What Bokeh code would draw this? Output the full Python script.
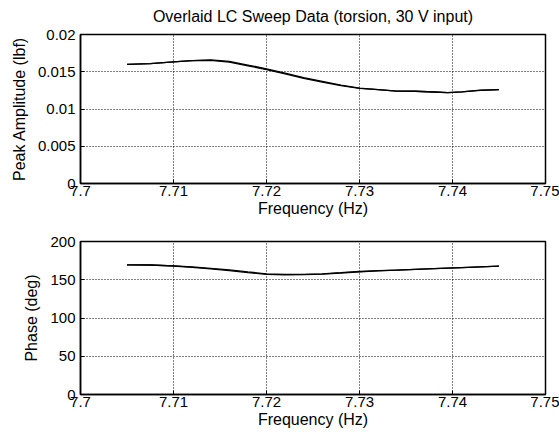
from bokeh.plotting import figure
from bokeh.layouts import column
from bokeh.models import FixedTicker, Title
from bokeh.embed import file_html
from bokeh.resources import INLINE

# ---- data ----
freq = [7.705, 7.7075, 7.71, 7.712, 7.714, 7.716, 7.718, 7.72, 7.722, 7.724,
        7.726, 7.728, 7.73, 7.732, 7.734, 7.736, 7.738, 7.7395, 7.741, 7.743, 7.745]

amp_sweep1 = [0.0160, 0.0161, 0.01633, 0.0165, 0.0166, 0.0164, 0.0159, 0.0154, 0.0148, 0.0142,
              0.0137, 0.0132, 0.0128, 0.0126, 0.0124, 0.01238, 0.01228, 0.0122, 0.0123, 0.01252, 0.0126]
amp_sweep2 = [0.0160, 0.0161, 0.01633, 0.01648, 0.01652, 0.0163, 0.0158, 0.0153, 0.0147, 0.01412,
              0.0136, 0.01314, 0.01277, 0.0126, 0.0124, 0.01238, 0.01228, 0.0122, 0.0123, 0.0125, 0.0126]

phase_sweep1 = [169.5, 169.3, 168.2, 166.8, 165.0, 162.8, 160.2, 157.8, 157.0, 157.0,
                157.8, 159.2, 160.8, 161.8, 162.7, 163.6, 164.5, 165.2, 165.9, 166.8, 167.7]
phase_sweep2 = [169.5, 169.3, 168.0, 166.2, 164.2, 162.0, 159.4, 157.1, 156.5, 156.6,
                157.4, 158.8, 160.4, 161.5, 162.5, 163.6, 164.5, 165.2, 165.9, 166.8, 167.7]

x_ticks = [7.7, 7.71, 7.72, 7.73, 7.74, 7.75]
x_tick_labels = ["7.7", "7.71", "7.72", "7.73", "7.74", "7.75"]
amp_ticks = [0, 0.005, 0.01, 0.015, 0.02]
amp_tick_labels = ["0", "0.005", "0.01", "0.015", "0.02"]
phase_ticks = [0, 50, 100, 150, 200]
phase_tick_labels = ["0", "50", "100", "150", "200"]

FONT = "Liberation Sans"


def make_fig(ylab, yticks, ylabels, yrange, top, bottom, height):
    p = figure(width=559, height=height, output_backend="svg", toolbar_location=None,
               x_range=(7.7, 7.75), y_range=yrange,
               min_border_left=80, min_border_right=14,
               min_border_top=top, min_border_bottom=bottom)
    p.xaxis.ticker = FixedTicker(ticks=x_ticks)
    p.xaxis.major_label_overrides = dict(zip(x_ticks, x_tick_labels))
    p.yaxis.ticker = FixedTicker(ticks=yticks)
    p.yaxis.major_label_overrides = dict(zip(yticks, ylabels))
    p.xaxis.axis_label = "Frequency (Hz)"
    p.yaxis.axis_label = ylab
    for ax in (p.xaxis, p.yaxis):
        ax.axis_label_text_font = FONT
        ax.axis_label_text_font_style = "normal"
        ax.axis_label_text_font_size = "16px"
        ax.major_label_text_font = FONT
        ax.major_label_text_font_size = "15px"
        ax.major_label_text_color = "black"
        ax.axis_label_text_color = "black"
        ax.axis_line_color = "black"
        ax.axis_line_width = 1.5
        ax.major_tick_in = 4
        ax.major_tick_out = 0
        ax.major_tick_line_color = "black"
        ax.minor_tick_line_color = None
    p.xaxis.major_label_standoff = 2
    p.xaxis.axis_label_standoff = 1
    p.yaxis.major_label_standoff = 5
    p.yaxis.axis_label_standoff = 7
    p.grid.grid_line_color = "black"
    p.grid.grid_line_dash = "1 2"
    p.grid.grid_line_width = 1
    p.grid.grid_line_alpha = 1
    p.outline_line_color = "black"
    p.outline_line_width = 1.5
    p.outline_line_alpha = 1
    p.background_fill_color = "white"
    p.border_fill_color = "white"
    return p


p1 = make_fig("Peak Amplitude (lbf)", amp_ticks, amp_tick_labels, (0, 0.02), 32, 40, 223)
p1.title = Title(text="Overlaid LC Sweep Data (torsion, 30 V input)", align="center",
                 text_font=FONT, text_font_size="16px", text_font_style="normal",
                 text_color="black", standoff=15, vertical_align="top")
p1.line(freq, amp_sweep1, line_color="black", line_width=1.3)
p1.line(freq, amp_sweep2, line_color="black", line_width=1.3)

p2 = make_fig("Phase (deg)", phase_ticks, phase_tick_labels, (0, 200), 18, 48, 219)
p2.line(freq, phase_sweep1, line_color="black", line_width=1.3)
p2.line(freq, phase_sweep2, line_color="black", line_width=1.3)

layout = column(p1, p2, spacing=0)
open("out.html", "w").write(file_html(layout, INLINE))
